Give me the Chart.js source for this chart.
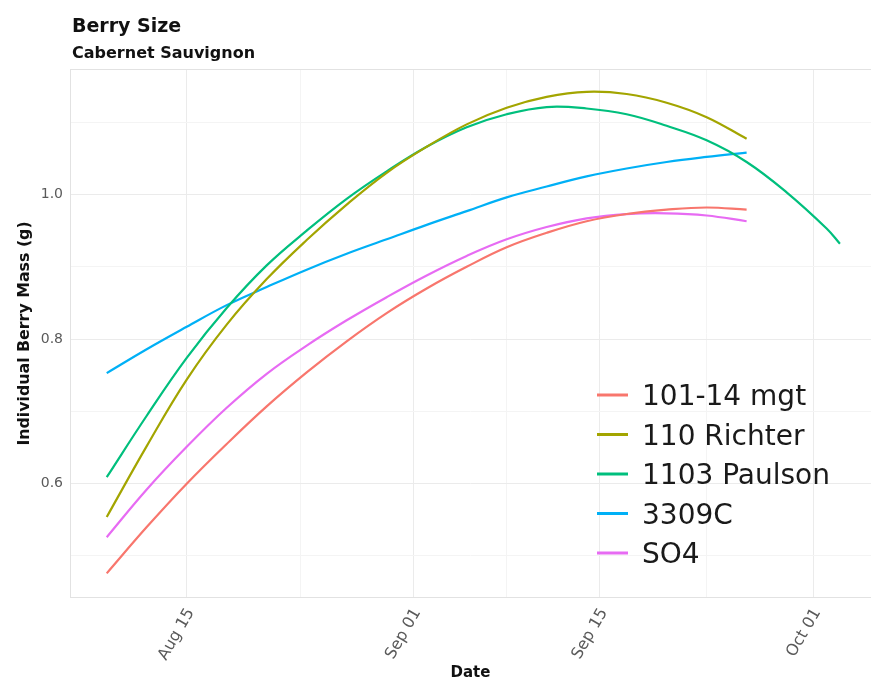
<!DOCTYPE html>
<html>
<head>
<meta charset="utf-8">
<title>Berry Size</title>
<script src="https://cdn.jsdelivr.net/npm/chart.js@4.4.1/dist/chart.umd.min.js"></script>
<style>
  html, body { margin: 0; padding: 0; background: #ffffff; overflow: hidden; }
  #wrap { position: relative; width: 871px; height: 690px; }
</style>
</head>
<body>
<div id="wrap"><canvas id="chart"></canvas></div>
<script>
// Days are counted from August 1 (Aug 15 = 14, Sep 01 = 31, Sep 15 = 45, Oct 01 = 61)
const seasonDays  = [8, 11, 14, 17, 20, 23, 26, 29, 32, 35, 38, 41, 44, 47, 50, 53, 56];
const paulsonDays = [8, 11, 14, 17, 20, 23, 26, 29, 32, 35, 38, 41, 44, 47, 50, 53, 56, 59, 62, 63];

const rootstocks = ['101-14 mgt', '110 Richter', '1103 Paulson', '3309C', 'SO4'];
const colors     = ['#F8766D', '#A3A500', '#00BF7D', '#00B0F6', '#E76BF3'];

// Individual berry mass (g) per rootstock
const mgt101      = [0.476, 0.540, 0.600, 0.655, 0.707, 0.754, 0.797, 0.836, 0.870, 0.900, 0.927, 0.947, 0.963, 0.973, 0.979, 0.982, 0.979];
const richter110  = [0.554, 0.652, 0.744, 0.820, 0.883, 0.937, 0.986, 1.030, 1.066, 1.097, 1.120, 1.135, 1.142, 1.139, 1.127, 1.107, 1.077];
const paulson1103 = [0.609, 0.694, 0.774, 0.843, 0.902, 0.950, 0.994, 1.032, 1.066, 1.093, 1.111, 1.121, 1.119, 1.111, 1.095, 1.075, 1.045, 1.003, 0.953, 0.932];
const c3309       = [0.753, 0.786, 0.817, 0.847, 0.872, 0.896, 0.918, 0.938, 0.958, 0.977, 0.996, 1.011, 1.025, 1.036, 1.045, 1.052, 1.058];
const so4         = [0.526, 0.592, 0.651, 0.705, 0.752, 0.791, 0.826, 0.858, 0.888, 0.915, 0.938, 0.955, 0.967, 0.973, 0.974, 0.971, 0.963];

// Axis breaks
const xMajorTicks = [14, 31, 45, 61];
const xMinorTicks = [22.5, 38, 53];
const xTickLabels = ['Aug 15', 'Sep 01', 'Sep 15', 'Oct 01'];
const yMajorTicks = [0.6, 0.8, 1.0];
const yMinorTicks = [0.5, 0.7, 0.9, 1.1];

const seriesValues = [mgt101, richter110, paulson1103, c3309, so4];
const seriesDays   = [seasonDays, seasonDays, paulsonDays, seasonDays, seasonDays];

const FONT = '"DejaVu Sans", "Liberation Sans", Arial, sans-serif';

const datasets = rootstocks.map((name, i) => ({
  label: name,
  data: seriesValues[i].map((v, k) => ({ x: seriesDays[i][k], y: v })),
  borderColor: colors[i],
  backgroundColor: colors[i],
  borderWidth: 2.2,
  pointRadius: 0,
  tension: 0.4,
  fill: false
}));

const isMajor = (list, v) => list.some(t => Math.abs(t - v) < 1e-6);

// Panel outline, headings and in-panel legend
const decorations = {
  id: 'decorations',
  beforeDatasetsDraw(chart) {
    const { ctx, chartArea: a } = chart;
    ctx.save();
    ctx.strokeStyle = '#e2e2e2';
    ctx.lineWidth = 1;
    // the panel runs on past the right edge of the canvas
    ctx.strokeRect(a.left + 0.5, a.top + 0.5, a.right - a.left + 10, a.bottom - a.top - 1);
    ctx.restore();
  },
  afterDraw(chart) {
    const { ctx, chartArea: a } = chart;
    ctx.save();
    ctx.fillStyle = '#111111';
    ctx.textAlign = 'left';
    ctx.textBaseline = 'alphabetic';
    ctx.font = 'bold 19px ' + FONT;
    ctx.fillText('Berry Size', a.left + 2, 32);
    ctx.font = 'bold 16px ' + FONT;
    ctx.fillText('Cabernet Sauvignon', a.left + 2, 57.5);

    // legend
    const keyX0 = 597, keyX1 = 628, textX = 642, rowY0 = 395, rowStep = 39.5;
    chart.data.datasets.forEach((ds, i) => {
      const y = rowY0 + i * rowStep;
      ctx.strokeStyle = ds.borderColor;
      ctx.lineWidth = 3;
      ctx.beginPath();
      ctx.moveTo(keyX0, y);
      ctx.lineTo(keyX1, y);
      ctx.stroke();
      ctx.fillStyle = '#1a1a1a';
      ctx.font = '28px ' + FONT;
      ctx.fillText(ds.label, textX, y + 10);
    });
    ctx.restore();
  }
};

new Chart(document.getElementById('chart'), {
  type: 'line',
  data: { datasets },
  plugins: [decorations],
  options: {
    responsive: true,
    maintainAspectRatio: false,
    animation: false,
    devicePixelRatio: 1,
    layout: { padding: { top: 69, right: 0, left: 0, bottom: 0 } },
    plugins: { legend: { display: false }, tooltip: { enabled: false }, title: { display: false } },
    scales: {
      x: {
        type: 'linear',
        min: 5.245,
        max: 65.33,
        afterBuildTicks(scale) {
          scale.ticks = [...xMajorTicks, ...xMinorTicks].sort((p, q) => p - q).map(v => ({ value: v }));
        },
        afterFit(scale) { scale.height = 92; },
        ticks: {
          autoSkip: false,
          minRotation: 60,
          maxRotation: 60,
          padding: 7,
          labelOffset: 4,
          color: '#5a5a5a',
          font: { family: FONT, size: 16 },
          callback(value) {
            const i = xMajorTicks.findIndex(t => Math.abs(t - value) < 1e-6);
            return i >= 0 ? xTickLabels[i] : '';
          }
        },
        grid: {
          drawTicks: false,
          lineWidth: 1,
          color: ctx => isMajor(xMajorTicks, ctx.tick.value) ? '#ebebeb' : '#f4f4f4'
        },
        border: { display: false },
        title: {
          display: true,
          text: 'Date',
          color: '#111111',
          font: { family: FONT, size: 15, weight: 'bold' },
          padding: { top: 0, bottom: 8 }
        }
      },
      y: {
        type: 'linear',
        min: 0.4419,
        max: 1.1736,
        afterBuildTicks(scale) {
          scale.ticks = [...yMinorTicks, ...yMajorTicks].sort((p, q) => p - q).map(v => ({ value: v }));
        },
        afterFit(scale) { scale.width = 70; },
        ticks: {
          autoSkip: false,
          padding: 7,
          color: '#5a5a5a',
          font: { family: FONT, size: 14 },
          callback(value) { return isMajor(yMajorTicks, value) ? value.toFixed(1) : ''; }
        },
        grid: {
          drawTicks: false,
          lineWidth: 1,
          color: ctx => isMajor(yMajorTicks, ctx.tick.value) ? '#ebebeb' : '#f4f4f4'
        },
        border: { display: false },
        title: {
          display: true,
          text: 'Individual Berry Mass (g)',
          color: '#111111',
          font: { family: FONT, size: 15.8, weight: 'bold' },
          padding: { top: 15.5, bottom: 0 }
        }
      }
    }
  }
});
</script>
</body>
</html>
